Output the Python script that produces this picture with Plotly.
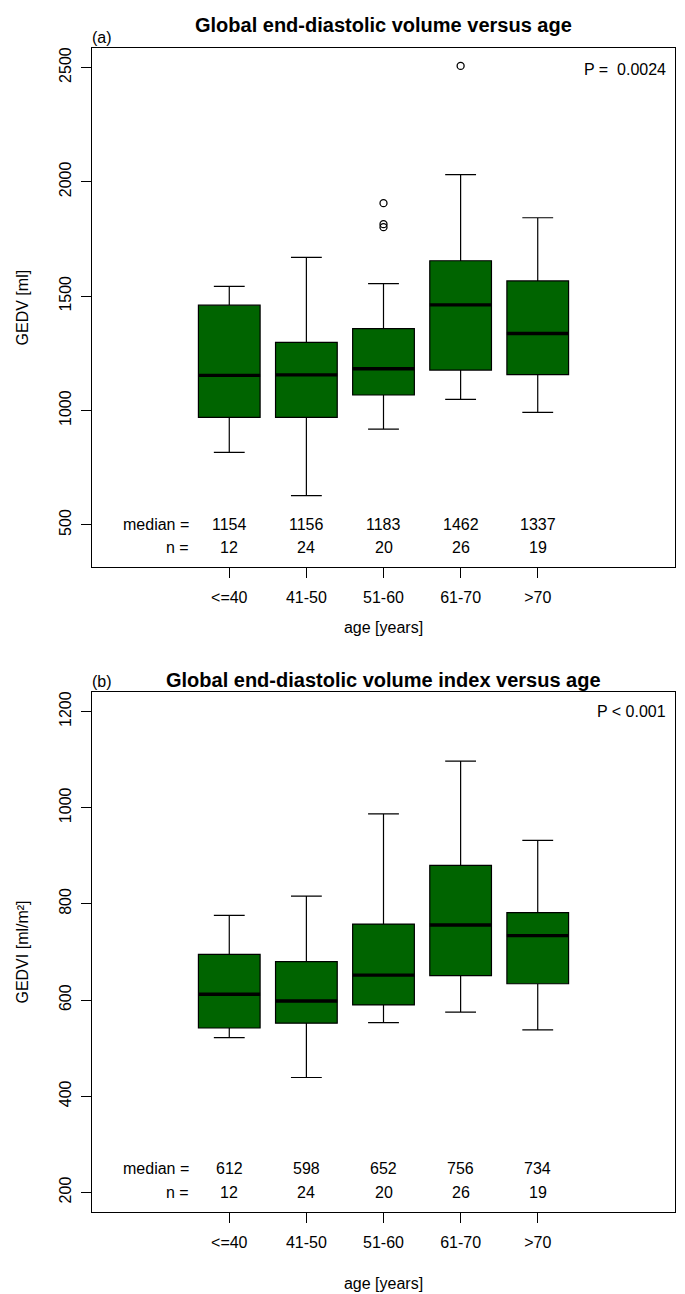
import plotly.graph_objects as go
from plotly.subplots import make_subplots

# ---------------- data ----------------
age_groups = ["<=40", "41-50", "51-60", "61-70", ">70"]
positions = [1, 2, 3, 4, 5]
n_counts = [12, 24, 20, 26, 19]

# Panel (a): GEDV [ml]
gedv_lower = [817, 628, 919, 1049, 992]
gedv_q1 = [970, 970, 1068, 1177, 1157]
gedv_median = [1154, 1156, 1183, 1462, 1337]
gedv_q3 = [1461, 1298, 1358, 1655, 1567]
gedv_upper = [1543, 1670, 1555, 2032, 1843]
gedv_out_x = [3, 3, 3, 4]
gedv_out_y = [1907, 1815, 1802, 2507]

# Panel (b): GEDVI [ml/m²]
gedvi_lower = [522, 439, 553, 575, 538]
gedvi_q1 = [542, 552, 590, 651, 634]
gedvi_median = [612, 598, 652, 756, 734]
gedvi_q3 = [695, 680, 758, 880, 782]
gedvi_upper = [776, 816, 987, 1097, 932]

FONT = "Liberation Sans, Arial, Helvetica, sans-serif"
GREEN = "#006400"

fig = make_subplots(rows=2, cols=1)


def add_panel(row, lower, q1, med, q3, upper):
    fig.add_trace(go.Box(
        x=positions, q1=q1, median=med, q3=q3,
        lowerfence=lower, upperfence=upper,
        width=0.8, whiskerwidth=0.5,
        fillcolor=GREEN, line=dict(color="black", width=1.2),
        boxpoints=False, showlegend=False, hoverinfo="skip"),
        row=row, col=1)
    # thick median bar (degenerate box drawn at the median)
    fig.add_trace(go.Box(
        x=positions, q1=med, median=med, q3=med,
        lowerfence=med, upperfence=med,
        width=0.8, whiskerwidth=0.0,
        fillcolor="black", line=dict(color="black", width=3.4),
        boxpoints=False, showlegend=False, hoverinfo="skip"),
        row=row, col=1)


add_panel(1, gedv_lower, gedv_q1, gedv_median, gedv_q3, gedv_upper)
fig.add_trace(go.Scatter(
    x=gedv_out_x, y=gedv_out_y, mode="markers",
    marker=dict(symbol="circle-open", size=7, color="black", line=dict(width=1.3)),
    showlegend=False, hoverinfo="skip"), row=1, col=1)
add_panel(2, gedvi_lower, gedvi_q1, gedvi_median, gedvi_q3, gedvi_upper)

H = 1294.0
dom_a = [1 - 567 / H, 1 - 48.3 / H]
dom_b = [1 - 1211.7 / H, 1 - 692.3 / H]

xcommon = dict(
    range=[-0.78, 6.78], tickmode="array", tickvals=positions, ticktext=age_groups,
    showline=True, mirror=True, linecolor="black", linewidth=1.3,
    ticks="outside", ticklen=10, tickwidth=1.2, tickcolor="black",
    showgrid=False, zeroline=False, ticklabelstandoff=6, automargin=False,
    tickfont=dict(family=FONT, size=16, color="black"),
    title=dict(text="age [years]", font=dict(family=FONT, size=16, color="black"), standoff=16),
)
ycommon = dict(
    showline=True, mirror=True, linecolor="black", linewidth=1.3,
    ticks="outside", ticklen=10, tickwidth=1.2, tickcolor="black",
    showgrid=False, zeroline=False, tickangle=-90, ticklabelstandoff=3, automargin=False,
    tickfont=dict(family=FONT, size=16, color="black"),
)

fig.update_xaxes(**xcommon, domain=[0, 1], row=1, col=1)
fig.update_xaxes(**xcommon, domain=[0, 1], row=2, col=1)
fig.update_xaxes(title_standoff=27, row=2, col=1)
fig.update_yaxes(**ycommon, domain=dom_a, range=[316, 2584],
                 tickvals=[500, 1000, 1500, 2000, 2500],
                 title=dict(text="GEDV [ml]", font=dict(family=FONT, size=16, color="black"), standoff=24),
                 row=1, col=1)
fig.update_yaxes(**ycommon, domain=dom_b, range=[160, 1240],
                 tickvals=[200, 400, 600, 800, 1000, 1200],
                 title=dict(text="GEDVI [ml/m²]", font=dict(family=FONT, size=16, color="black"), standoff=24),
                 row=2, col=1)

annotations = []
tf = dict(family=FONT, size=16, color="black")


def panel_text(xref, yref, med, y_med, y_n, p_text, p_y, label, title, title_y):
    for pos, m, n in zip(positions, med, n_counts):
        annotations.append(dict(x=pos, y=y_med, xref=xref, yref=yref, text=str(m),
                                showarrow=False, font=tf, xanchor="center", yanchor="middle"))
        annotations.append(dict(x=pos, y=y_n, xref=xref, yref=yref, text=str(n),
                                showarrow=False, font=tf, xanchor="center", yanchor="middle"))
    annotations.append(dict(x=0.5, y=y_med, xref=xref, yref=yref, text="median =",
                            showarrow=False, font=tf, xanchor="right", yanchor="middle"))
    annotations.append(dict(x=0.5, y=y_n, xref=xref, yref=yref, text="n =",
                            showarrow=False, font=tf, xanchor="right", yanchor="middle"))
    annotations.append(dict(x=0.988, y=p_y, xref=xref + " domain", yref=yref, text=p_text,
                            showarrow=False, font=tf, xanchor="right", yanchor="middle"))
    annotations.append(dict(x=0, y=1, xref=xref + " domain", yref=yref + " domain", text=label,
                            showarrow=False, font=tf, xanchor="left", yanchor="bottom", xshift=-2))
    annotations.append(dict(x=0.5, y=1 - title_y / H, xref=xref + " domain", yref="paper",
                            text="<b>" + title + "</b>", showarrow=False,
                            font=dict(family=FONT, size=20, color="black"),
                            xanchor="center", yanchor="middle"))


panel_text("x", "y", gedv_median, 500, 400, "P =  0.0024", 2490, "(a)",
           "Global end-diastolic volume versus age", 25)
panel_text("x2", "y2", gedvi_median, 250, 200, "P < 0.001", 1200, "(b)",
           "Global end-diastolic volume index versus age", 680)

fig.update_layout(
    width=685, height=1294,
    margin=dict(l=92, r=10, t=0, b=0, autoexpand=False),
    paper_bgcolor="white", plot_bgcolor="white",
    boxmode="overlay", showlegend=False,
    annotations=annotations,
    font=dict(family=FONT, size=16, color="black"),
)

fig.write_html("out.html",
               config={"displayModeBar": False},
               post_script="document.body.style.margin='0px';document.body.style.padding='0px';")
